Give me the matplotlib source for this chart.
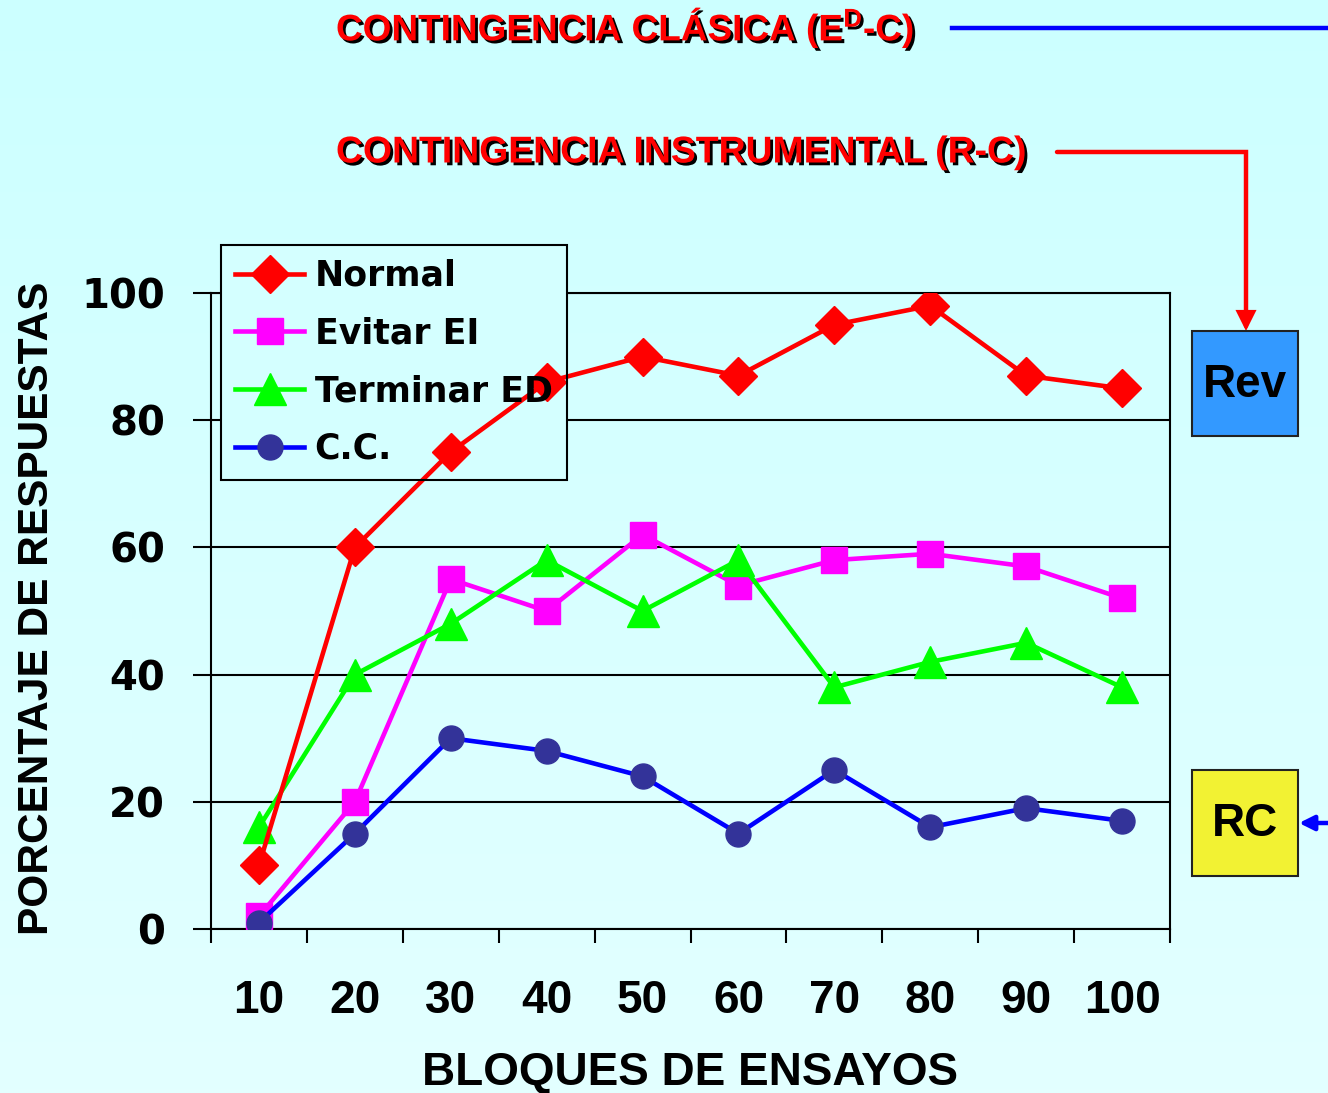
import numpy as np
import matplotlib
matplotlib.use("Agg")
import matplotlib.pyplot as plt
import matplotlib.patheffects as pe
from matplotlib import font_manager
from matplotlib.patches import Rectangle, FancyArrowPatch
from matplotlib.lines import Line2D
from matplotlib.path import Path

# data
bloques = ["10", "20", "30", "40", "50", "60", "70", "80", "90", "100"]
normal = [10, 60, 75, 86, 90, 87, 95, 98, 87, 85]
evitar_ei = [2, 20, 55, 50, 62, 54, 58, 59, 57, 52]
terminar_ed = [16, 40, 48, 58, 50, 58, 38, 42, 45, 38]
cc = [1, 15, 30, 28, 24, 15, 25, 16, 19, 17]

# fonts: condensed bold for titles / x labels if available
names = {f.name for f in font_manager.fontManager.ttflist}
narrow = "Liberation Sans Narrow" if "Liberation Sans Narrow" in names else "Liberation Sans"
wide = "DejaVu Sans"

plt.rcParams["mathtext.fontset"] = "custom"
plt.rcParams["mathtext.rm"] = narrow + ":bold"
plt.rcParams["mathtext.it"] = narrow + ":bold"
plt.rcParams["mathtext.bf"] = narrow + ":bold"

W, H = 1328, 1093
fig = plt.figure(figsize=(W / 100, H / 100), dpi=100)

def fx(px):
    return px / W

def fy(py):
    return 1 - py / H

# background gradient
bg = fig.add_axes([0, 0, 1, 1], zorder=-10)
grad = np.linspace(0, 1, 256).reshape(-1, 1)
top = np.array([204, 255, 255]) / 255
bot = np.array([227, 255, 255]) / 255
img = top + grad[:, :, None] * (bot - top)
bg.imshow(img, aspect="auto", extent=[0, 1, 0, 1])
bg.axis("off")

ax = fig.add_axes([fx(211), fy(929), fx(1170) - fx(211), fy(293) - fy(929)])
ax.patch.set_alpha(0)

x = np.arange(len(bloques))
lw = 3.3
ax.plot(x, normal, color="#ff0000", lw=lw, marker="D", ms=19, mfc="#ff0000", mec="#ff0000",
        label="Normal", zorder=5)
ax.plot(x, evitar_ei, color="#ff00ff", lw=lw, marker="s", ms=19, mfc="#ff00ff", mec="#ff00ff",
        label="Evitar EI", zorder=4)
ax.plot(x, terminar_ed, color="#00ff00", lw=lw, marker="^", ms=23, mfc="#00ff00", mec="#00ff00",
        label="Terminar ED", zorder=4)
ax.plot(x, cc, color="#0000ff", lw=lw, marker="o", ms=18, mfc="#333399", mec="#333399",
        label="C.C.", zorder=6)

ax.set_xlim(-0.5, len(bloques) - 0.5)
ax.set_ylim(0, 100)
ax.set_yticks([0, 20, 40, 60, 80, 100])
ax.yaxis.grid(True, color="black", lw=1.5)
ax.set_axisbelow(True)
for s in ax.spines.values():
    s.set_color("black")
    s.set_linewidth(1.5)

ax.set_xticks(x)
ax.set_xticklabels(bloques, fontfamily=narrow, fontweight="bold", fontsize=33)
ax.set_xticks(np.arange(len(bloques) + 1) - 0.5, minor=True)
ax.tick_params(axis="x", which="major", length=0, pad=36)
ax.tick_params(axis="x", which="minor", length=10, width=1.5, direction="out")
ax.tick_params(axis="y", length=13, width=1.5, direction="out", pad=20)
for t in ax.get_yticklabels():
    t.set_fontfamily(wide)
    t.set_fontweight("bold")
    t.set_fontsize(29)

fig.text(fx(690), fy(1073), "BLOQUES DE ENSAYOS", ha="center", va="center",
         fontfamily=narrow, fontweight="bold", fontsize=33)
fig.text(fx(37), fy(608), "PORCENTAJE DE RESPUESTAS", ha="center", va="center", rotation=90,
         fontfamily=narrow, fontweight="bold", fontsize=30.5)

# legend: its fill hides grid/frame, data lines cross over the fill, text stays on top
leg = ax.legend(loc="upper left", bbox_to_anchor=(fx(221), fy(245)),
                bbox_transform=fig.transFigure, borderaxespad=0,
                prop={"family": wide, "weight": "bold", "size": 25},
                handlelength=2.0, handletextpad=0.3, labelspacing=0.68,
                borderpad=0.4, fancybox=False, framealpha=1)
leg.set_zorder(10)
leg.get_frame().set_facecolor("none")
leg.get_frame().set_edgecolor("black")
leg.get_frame().set_linewidth(1.5)

fig.canvas.draw()
bb = leg.get_frame().get_window_extent().transformed(fig.transFigure.inverted())
ax.add_patch(Rectangle((bb.x0, bb.y0), bb.width, bb.height, transform=fig.transFigure,
                       facecolor="#d4ffff", edgecolor="none", zorder=3, clip_on=False))

# titles with shadow
shadow = [pe.withSimplePatchShadow(offset=(2, -2), shadow_rgbFace="black", alpha=1)]
fig.text(fx(336), fy(28), r"CONTINGENCIA CLÁSICA (E$^{D}$-C)", ha="left", va="center",
         color="#ff0000", fontfamily=narrow, fontweight="bold", fontsize=26.6,
         path_effects=shadow)
fig.text(fx(336), fy(153), "CONTINGENCIA INSTRUMENTAL (R-C)", ha="left", va="center",
         color="#ff0000", fontfamily=narrow, fontweight="bold", fontsize=26.9,
         path_effects=shadow)

# connector lines
fig.add_artist(Line2D([fx(952), fx(1328)], [fy(28), fy(28)], color="#0000ff", lw=3.2))
red_path = Path([(fx(1057), fy(152)), (fx(1246), fy(152)), (fx(1246), fy(331))])
fig.add_artist(FancyArrowPatch(path=red_path, arrowstyle="-|>", mutation_scale=25,
                               color="#ff0000", lw=3.2, transform=fig.transFigure,
                               shrinkA=0, shrinkB=0, joinstyle="miter"))
fig.add_artist(FancyArrowPatch((fx(1328), fy(823)), (fx(1299), fy(823)), arrowstyle="-|>",
                               mutation_scale=22, color="#0000ff", lw=3.2,
                               transform=fig.transFigure, shrinkA=0, shrinkB=0))

# boxes
fig.add_artist(Rectangle((fx(1192), fy(436)), fx(1298) - fx(1192), fy(331) - fy(436),
                         facecolor="#3399ff", edgecolor="#222222", lw=1.5,
                         transform=fig.transFigure))
fig.text(fx(1245), fy(385), "Rev", ha="center", va="center", fontfamily="Liberation Sans",
         fontweight="bold", fontsize=33)
fig.add_artist(Rectangle((fx(1192), fy(876)), fx(1298) - fx(1192), fy(770) - fy(876),
                         facecolor="#f2f233", edgecolor="#222222", lw=1.5,
                         transform=fig.transFigure))
fig.text(fx(1245), fy(824), "RC", ha="center", va="center", fontfamily="Liberation Sans",
         fontweight="bold", fontsize=33)

fig.savefig("out.png", dpi=100)
